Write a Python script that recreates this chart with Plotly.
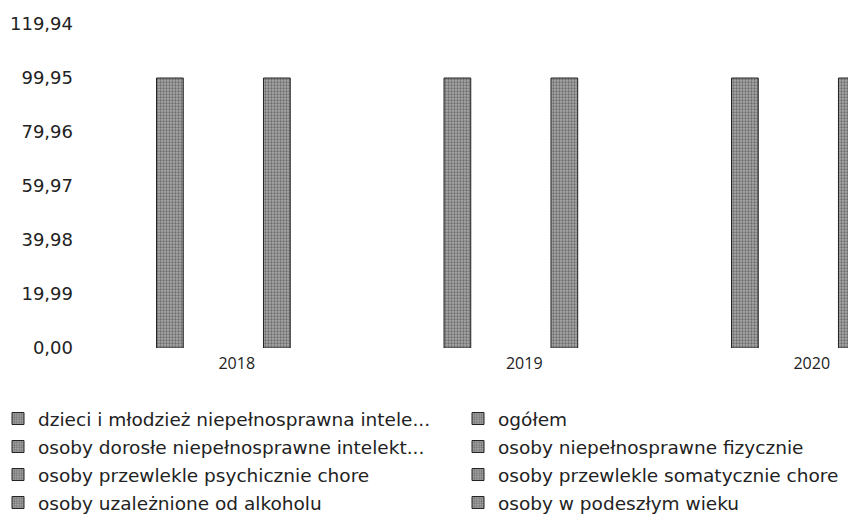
import plotly.graph_objects as go

# data
years = ["2018", "2019", "2020"]
series_names = [
    "dzieci i młodzież niepełnosprawna intele...",
    "ogółem",
    "osoby dorosłe niepełnosprawne intelekt...",
    "osoby niepełnosprawne fizycznie",
    "osoby przewlekle psychicznie chore",
    "osoby przewlekle somatycznie chore",
    "osoby uzależnione od alkoholu",
    "osoby w podeszłym wieku",
]
series_values = [
    [None, None, None],
    [99.95, 99.95, 99.95],
    [None, None, None],
    [None, None, None],
    [None, None, None],
    [99.95, 99.95, 99.95],
    [None, None, None],
    [None, None, None],
]
y_ticks = [0, 19.99, 39.98, 59.97, 79.96, 99.95, 119.94]
y_ticktext = ["0,00", "19,99", "39,98", "59,97", "79,96", "99,95", "119,94"]

# grey dithered look of the scanned bars
fills = ["#6e6e6e", "#8c8c8c", "#9a9a9a", "#7c7c7c", "#b4b4b4", "#8a8a8a", "#bcbcbc", "#909090"]

# the page body has an 8px margin, so the figure is drawn 8px smaller and shifted
FW, FH = 848, 510
L, T, W, H = 85, 16, 763, 324      # plot area inside the figure (px)
col_x = [-10, 450]                  # legend left edge per column (figure px)
row_y = [411, 439, 467, 495]        # legend row centres (figure px)

fig = go.Figure()
legend_font = dict(family="DejaVu Sans, Verdana, sans-serif", size=18.5, color="#222222")
legends = {}
for i, (name, vals) in enumerate(zip(series_names, series_values)):
    lid = "legend" if i == 0 else f"legend{i + 1}"
    fig.add_trace(go.Bar(
        x=years, y=vals, name=name, legend=lid,
        marker=dict(
            color=fills[i],
            line=dict(color="#222222", width=1),
            pattern=dict(shape=".", fgcolor="#303030", bgcolor="#a8a8a8", size=3, solidity=0.45),
        ),
    ))
    legends[lid] = dict(
        xref="paper", yref="paper",
        x=(col_x[i % 2] - L) / W, y=(T + H - row_y[i // 2]) / H,
        xanchor="left", yanchor="middle",
        font=legend_font, itemwidth=30, bgcolor="rgba(0,0,0,0)",
    )

fig.update_layout(
    width=FW, height=FH, autosize=False, showlegend=True,
    margin=dict(l=L, r=FW - L - W, t=T, b=FH - T - H, autoexpand=False),
    plot_bgcolor="white", paper_bgcolor="white",
    barmode="group", bargap=0.256, bargroupgap=0,
    **legends,
)
fig.update_xaxes(type="category", range=[-0.5, 2.154], showgrid=False, showline=False,
                 ticks="", tickfont=dict(family="Open Sans, sans-serif", size=16, color="#222222"),
                 ticklabelstandoff=4)
fig.update_yaxes(range=[0, 119.94], tickvals=y_ticks, ticktext=y_ticktext,
                 showgrid=False, showline=False, zeroline=False, ticks="",
                 tickfont=dict(family="DejaVu Sans, Verdana, sans-serif", size=18, color="#222222"),
                 ticklabelstandoff=19)

fig.write_html("out.html")
